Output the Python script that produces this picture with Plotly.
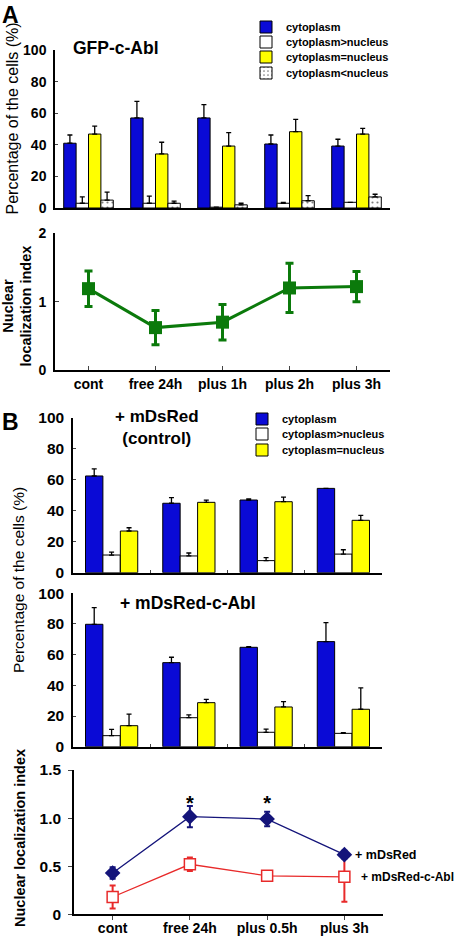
import plotly.graph_objects as go

# ---------------- data ----------------
cats_a = ["cont", "free 24h", "plus 1h", "plus 2h", "plus 3h"]
a_cyto = [41, 57, 57, 40.5, 39.2]
a_cyto_err = [5.2, 10.5, 8.4, 5.7, 4.3]
a_gt = [3, 3, 0.5, 3, 3.6]
a_gt_err = [4, 4.5, 0, 0.5, 0]
a_eq = [46.8, 34.2, 39.2, 48.3, 46.8]
a_eq_err = [5, 7.4, 8.5, 7.8, 3.6]
a_lt = [5, 3, 2, 4.6, 7]
a_lt_err = [5, 1.4, 1, 3.2, 1.7]

a_index = [1.19, 0.62, 0.70, 1.20, 1.22]
a_index_err = [0.26, 0.25, 0.26, 0.36, 0.22]

cats_b = ["cont", "free 24h", "plus 0.5h", "plus 3h"]
bc_cyto = [62.4, 44.8, 46.9, 54.4]
bc_cyto_err = [4.6, 3.6, 0.7, 0]
bc_gt = [11.4, 10.8, 7.8, 12]
bc_gt_err = [1.9, 1.9, 1.9, 2.8]
bc_eq = [26.9, 45.4, 45.8, 33.8]
bc_eq_err = [2.1, 1.4, 2.9, 3.2]

ba_cyto = [79.8, 54.8, 64.8, 68.5]
ba_cyto_err = [10.9, 3.5, 0.5, 12.4]
ba_gt = [7.2, 18.9, 9.4, 8.7]
ba_gt_err = [4.1, 1.8, 2.1, 0.5]
ba_eq = [13.7, 28.7, 25.9, 24.4]
ba_eq_err = [7.6, 2.2, 3.5, 13.9]

b_idx_red = [0.43, 1.015, 0.99, 0.62]      # + mDsRed
b_idx_red_err = [0.06, 0.11, 0.075, 0.04]
b_idx_abl = [0.18, 0.52, 0.40, 0.39]       # + mDsRed-c-Abl
b_idx_abl_err = [0.12, 0.07, 0.04, 0.26]
sig_marks = ["", "*", "*", ""]
sig_y = [None, 1.14, 1.14, None]

# ---------------- layout helpers ----------------
W, H = 456, 938
FONT = "Liberation Sans, Arial, sans-serif"


def dx(a, b):
    return [a / W, b / W]


def dy(bottom, top):
    return [1 - bottom / H, 1 - top / H]


BLUE = "#0a0ad6"
YELLOW = "#ffff00"
GREEN = "#0b7a0b"
NAVY = "#14147a"
RED = "#e82a2a"

fig = go.Figure()


def bar(x, y, err, name, color, xa, ya, off, width, legend, showlegend=True, pattern=None):
    m = dict(color=color, line=dict(color="black", width=1))
    if pattern:
        m["pattern"] = pattern
    fig.add_trace(go.Bar(
        x=x, y=y, name=name, marker=m, xaxis=xa, yaxis=ya,
        offset=off, width=width, legend=legend, showlegend=showlegend,
        error_y=dict(type="data", symmetric=False, array=err, arrayminus=[0] * len(err),
                     color="black", thickness=1.3, width=2.5),
    ))


# Panel A bars
wa = 0.185
bar(cats_a, a_cyto, a_cyto_err, "cytoplasm", BLUE, "x", "y", -0.37, wa, "legend")
bar(cats_a, a_gt, a_gt_err, "cytoplasm>nucleus", "white", "x", "y", -0.185, wa, "legend2")
bar(cats_a, a_eq, a_eq_err, "cytoplasm=nucleus", YELLOW, "x", "y", 0.0, wa, "legend3")
bar(cats_a, a_lt, a_lt_err, "cytoplasm<nucleus", "white", "x", "y", 0.185, wa, "legend4",
    pattern=dict(shape=".", fgcolor="black", bgcolor="white", size=5, solidity=0.15))

# Panel A index line
fig.add_trace(go.Scatter(
    x=cats_a, y=a_index, mode="lines+markers", xaxis="x2", yaxis="y2", showlegend=False,
    line=dict(color=GREEN, width=3),
    marker=dict(symbol="square", size=13, color=GREEN),
    error_y=dict(type="data", array=a_index_err, color=GREEN, thickness=3, width=4),
))

# Panel B bars
wb = 0.225
bar(cats_b, bc_cyto, bc_cyto_err, "cytoplasm", BLUE, "x3", "y3", -0.338, wb, "legend5")
bar(cats_b, bc_gt, bc_gt_err, "cytoplasm>nucleus", "white", "x3", "y3", -0.113, wb, "legend6")
bar(cats_b, bc_eq, bc_eq_err, "cytoplasm=nucleus", YELLOW, "x3", "y3", 0.113, wb, "legend7")
bar(cats_b, ba_cyto, ba_cyto_err, "cytoplasm", BLUE, "x4", "y4", -0.338, wb, "legend5", False)
bar(cats_b, ba_gt, ba_gt_err, "cytoplasm>nucleus", "white", "x4", "y4", -0.113, wb, "legend6", False)
bar(cats_b, ba_eq, ba_eq_err, "cytoplasm=nucleus", YELLOW, "x4", "y4", 0.113, wb, "legend7", False)

# Panel B index lines
fig.add_trace(go.Scatter(
    x=cats_b, y=b_idx_abl, mode="lines+markers", xaxis="x5", yaxis="y5", showlegend=False,
    line=dict(color=RED, width=1.3),
    marker=dict(symbol="square", size=11, color="white", line=dict(color=RED, width=1.5)),
    error_y=dict(type="data", array=b_idx_abl_err, color=RED, thickness=2, width=3),
))
fig.add_trace(go.Scatter(
    x=cats_b, y=b_idx_red, mode="lines+markers", xaxis="x5", yaxis="y5", showlegend=False,
    line=dict(color=NAVY, width=1.3),
    marker=dict(symbol="diamond", size=12, color=NAVY),
    error_y=dict(type="data", array=b_idx_red_err, color=NAVY, thickness=2, width=3),
))
fig.add_trace(go.Scatter(
    x=cats_b, y=sig_y, mode="text", text=sig_marks, xaxis="x5", yaxis="y5", showlegend=False,
    textfont=dict(family=FONT, size=20, color="black", weight="bold"),
    textposition="middle center",
))

# ---------------- axes ----------------
def tf(size):
    return dict(family=FONT, size=size, color="black", weight="bold")


common_x = dict(showline=True, linecolor="black", showgrid=False, zeroline=False,
                type="category", tickfont=tf(14))
common_y = dict(showline=True, linecolor="black", showgrid=False, zeroline=False,
                tickfont=tf(14), ticklabelstandoff=4)


def leg(x, y):
    return dict(x=x / W, y=1 - y / H, xanchor="left", yanchor="middle",
                font=dict(family=FONT, size=11, color="black", weight="bold"),
                bgcolor="rgba(0,0,0,0)", borderwidth=0, tracegroupgap=0,
                itemclick=False, itemdoubleclick=False)


fig.update_layout(
    width=W, height=H, margin=dict(l=0, r=0, t=0, b=0, autoexpand=False),
    paper_bgcolor="white", plot_bgcolor="white",
    font=dict(family=FONT, color="black"),
    barmode="overlay",
    xaxis=dict(common_x, domain=dx(55, 390), range=[-0.5, 4.5], showticklabels=False,
               ticks="", linewidth=1.5, anchor="y"),
    yaxis=dict(common_y, domain=dy(208, 50), range=[0, 100], tickvals=[0, 20, 40, 60, 80, 100],
               ticks="inside", ticklen=3, linewidth=1.5, anchor="x"),
    xaxis2=dict(common_x, domain=dx(55, 390), range=[-0.5, 4.5], ticks="inside", ticklen=4,
                linewidth=2, anchor="y2"),
    yaxis2=dict(common_y, domain=dy(370, 233.3), range=[0, 2], tickvals=[0, 1, 2],
                ticks="inside", ticklen=4, linewidth=2, anchor="x2"),
    xaxis3=dict(common_x, domain=dx(73, 382), range=[-0.5, 3.5], showticklabels=False,
                ticks="inside", ticklen=3, tickson="boundaries", linewidth=1.5, anchor="y3"),
    yaxis3=dict(common_y, domain=dy(572.7, 417.7), range=[0, 100],
                tickvals=[0, 20, 40, 60, 80, 100], ticks="inside", ticklen=3,
                linewidth=1.5, anchor="x3", tickfont=tf(15.5)),
    xaxis4=dict(common_x, domain=dx(73, 382), range=[-0.5, 3.5], showticklabels=False,
                ticks="inside", ticklen=3, tickson="boundaries", linewidth=1.5, anchor="y4"),
    yaxis4=dict(common_y, domain=dy(746.7, 593.3), range=[0, 100],
                tickvals=[0, 20, 40, 60, 80, 100], ticks="inside", ticklen=3,
                linewidth=1.5, anchor="x4", tickfont=tf(15.5)),
    xaxis5=dict(common_x, domain=dx(74, 383), range=[-0.5, 3.5], ticks="outside", ticklen=4,
                linewidth=1.5, anchor="y5", tickfont=tf(14), ticklabelstandoff=-4),
    yaxis5=dict(common_y, domain=dy(914.3, 770), range=[0, 1.5], tickvals=[0, 0.5, 1.0, 1.5],
                ticktext=["0", "0.5", "1.0", "1.5"], ticks="outside", ticklen=4,
                linewidth=1.5, anchor="x5", tickfont=tf(15.5)),
    legend=leg(246, 27),
    legend2=leg(246, 42),
    legend3=leg(246, 57),
    legend4=leg(246, 73),
    legend5=leg(242, 419),
    legend6=leg(242, 434),
    legend7=leg(242, 450),
)

# ---------------- text annotations ----------------
def ann(text, x, y, size, xanchor="center", yanchor="middle", angle=0, align="center",
        weight="bold"):
    fig.add_annotation(text=text, x=x / W, y=1 - y / H, xref="paper", yref="paper",
                       showarrow=False, xanchor=xanchor, yanchor=yanchor, textangle=angle,
                       align=align, font=dict(family=FONT, size=size, color="black",
                                              weight=weight))


ann("A", 0, 0, 23, xanchor="left", yanchor="top")
ann("B", 0, 422, 23, xanchor="left")
ann("GFP-c-Abl", 71, 48, 17.5, xanchor="left")
ann("+ mDsRed<br>(control)", 157, 428, 17)
ann("+ mDsRed-c-Abl", 118, 603, 17.5, xanchor="left")

ann("Percentage of the cells (%)", 12, 118.5, 16, angle=-90, weight="normal")
ann("Nuclear<br>localization index", 16.5, 306, 14.5, angle=-90)
ann("Percentage of the cells (%)", 18, 580, 15.5, angle=-90, weight="normal")
ann("Nuclear localization index", 20, 838, 14.5, angle=-90)

fig.add_annotation(text="+ mDsRed", x=cats_b[-1], y=b_idx_red[-1], xref="x5", yref="y5",
                   showarrow=False, xanchor="left", xshift=9,
                   font=dict(family=FONT, size=12.5, color="black", weight="bold"))
fig.add_annotation(text="+ mDsRed-c-Abl", x=cats_b[-1], y=b_idx_abl[-1], xref="x5", yref="y5",
                   showarrow=False, xanchor="left", xshift=15,
                   font=dict(family=FONT, size=12, color="black", weight="bold"))

fig.write_html("out.html", config={"displayModeBar": False},
               post_script="document.body.style.margin='0';")
